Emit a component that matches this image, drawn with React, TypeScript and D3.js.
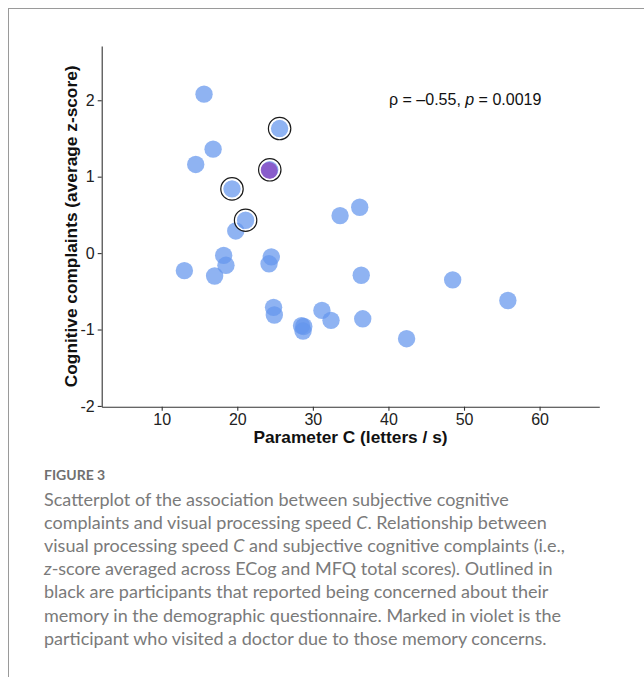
import React, { useEffect, useRef } from 'react';
import * as d3 from 'd3';

// visual processing speed C (letters / s) and cognitive complaints (average z-score)
const speedC = [15.6, 25.6, 16.8, 14.5, 24.3, 19.3, 21.1, 19.8, 33.6, 36.2, 13.0, 17.0, 18.2, 18.5, 24.5, 24.2, 24.8, 24.9, 28.5, 28.8, 28.7, 31.2, 32.4, 36.4, 36.6, 42.4, 48.5, 55.8];
const complaints = [2.08, 1.63, 1.36, 1.16, 1.09, 0.84, 0.43, 0.29, 0.49, 0.60, -0.23, -0.30, -0.03, -0.16, -0.05, -0.14, -0.71, -0.81, -0.95, -0.96, -1.02, -0.75, -0.88, -0.29, -0.86, -1.12, -0.35, -0.62];
// participants concerned about memory (outlined) and the one who visited a doctor (violet)
const concerned = [1, 4, 5, 6];
const doctor = [4];

const xTicks = [10, 20, 30, 40, 50, 60];
const yTicks = [-2, -1, 0, 1, 2];

const annotation = { rho: '–0.55', p: '0.0019' };

const captionLines = [
    [{ t: 'Scatterplot of the association between subjective cognitive' }],
    [{ t: 'complaints and visual processing speed ' }, { t: 'C', i: true }, { t: '. Relationship between' }],
    [{ t: 'visual processing speed ' }, { t: 'C', i: true }, { t: ' and subjective cognitive complaints (i.e.,' }],
    [{ t: 'z', i: true }, { t: '-score averaged across ECog and MFQ total scores). Outlined in' }],
    [{ t: 'black are participants that reported being concerned about their' }],
    [{ t: 'memory in the demographic questionnaire. Marked in violet is the' }],
    [{ t: 'participant who visited a doctor due to those memory concerns.' }],
];

const Chart = () => {
    const svgRef = useRef(null);
    const width = 644;
    const height = 677;
    const plot = { left: 101.7, right: 599.3, top: 46, bottom: 406.7 };

    useEffect(() => {
        const svg = d3.select(svgRef.current);
        svg.selectAll('*').remove();

        const data = speedC.map((x, i) => ({
            x,
            y: complaints[i],
            outlined: concerned.includes(i),
            violet: doctor.includes(i),
        }));

        const xScale = d3.scaleLinear().domain([2.06, 67.9]).range([plot.left, plot.right]);
        const yScale = d3.scaleLinear().domain([-2.01, 2.71]).range([plot.bottom, plot.top]);

        // page frame
        svg.append('line')
            .attr('x1', 8).attr('x2', width).attr('y1', 8.5).attr('y2', 8.5)
            .attr('stroke', '#9a9a9a').attr('stroke-width', 1);
        svg.append('line')
            .attr('x1', 8.5).attr('x2', 8.5).attr('y1', 8).attr('y2', height)
            .attr('stroke', '#9a9a9a').attr('stroke-width', 1);

        const axisFont = "'Liberation Sans', Arial, sans-serif";

        // x axis
        const xAxis = svg.append('g')
            .attr('transform', `translate(0,${plot.bottom})`)
            .attr('font-size', 16)
            .attr('font-family', axisFont)
            .call(d3.axisBottom(xScale).tickValues(xTicks).tickSize(4).tickPadding(3).tickSizeOuter(0));
        xAxis.select('.domain').attr('stroke', '#333').attr('stroke-width', 1.1);
        xAxis.selectAll('.tick line').attr('stroke', '#333').attr('stroke-width', 1.1);
        xAxis.selectAll('.tick text')
            .attr('font-family', axisFont).attr('font-size', 16).attr('fill', '#222');

        // y axis
        const yAxis = svg.append('g')
            .attr('transform', `translate(${plot.left},0)`)
            .attr('font-size', 16)
            .attr('font-family', axisFont)
            .call(d3.axisLeft(yScale).tickValues(yTicks).tickFormat(d3.format('d')).tickSize(4).tickPadding(3).tickSizeOuter(0));
        yAxis.select('.domain').attr('stroke', '#333').attr('stroke-width', 1.1);
        yAxis.selectAll('.tick line').attr('stroke', '#333').attr('stroke-width', 1.1);
        yAxis.selectAll('.tick text')
            .text(d => (d < 0 ? '-' + Math.abs(d) : d))
            .attr('font-family', axisFont).attr('font-size', 16).attr('fill', '#222');

        // axis titles
        svg.append('text')
            .attr('x', (plot.left + plot.right) / 2)
            .attr('y', 443)
            .attr('text-anchor', 'middle')
            .attr('font-family', axisFont).attr('font-weight', 'bold').attr('font-size', 17.3)
            .attr('fill', '#111')
            .text('Parameter C (letters / s)');

        svg.append('text')
            .attr('transform', `translate(77,${(plot.top + plot.bottom) / 2}) rotate(-90)`)
            .attr('text-anchor', 'middle')
            .attr('font-family', axisFont).attr('font-weight', 'bold').attr('font-size', 17.3)
            .attr('fill', '#111')
            .text('Cognitive complaints (average z-score)');

        // points
        svg.append('g')
            .selectAll('circle')
            .data(data)
            .enter()
            .append('circle')
            .attr('cx', d => xScale(d.x))
            .attr('cy', d => yScale(d.y))
            .attr('r', 8.7)
            .attr('fill', 'cornflowerblue')
            .attr('fill-opacity', 0.72);

        const marked = svg.append('g')
            .selectAll('g')
            .data(data.filter(d => d.outlined))
            .enter()
            .append('g');
        marked.filter(d => d.violet)
            .append('circle')
            .attr('cx', d => xScale(d.x) - 0.8)
            .attr('cy', d => yScale(d.y) + 0.8)
            .attr('r', 8.7)
            .attr('fill', '#863cbb')
            .attr('fill-opacity', 0.72);
        marked.append('circle')
            .attr('cx', d => xScale(d.x))
            .attr('cy', d => yScale(d.y))
            .attr('r', 10)
            .attr('fill', 'none')
            .attr('stroke', '#fff')
            .attr('stroke-width', 1.6);
        marked.append('circle')
            .attr('cx', d => xScale(d.x))
            .attr('cy', d => yScale(d.y))
            .attr('r', 11.2)
            .attr('fill', 'none')
            .attr('stroke', '#1a1a1a')
            .attr('stroke-width', 1.2);

        // correlation annotation
        const ann = svg.append('text')
            .attr('x', 389)
            .attr('y', 105)
            .attr('font-family', axisFont).attr('font-size', 16).attr('fill', '#111');
        ann.append('tspan').text(`ρ = ${annotation.rho}, `);
        ann.append('tspan').attr('font-style', 'italic').text('p');
        ann.append('tspan').text(` = ${annotation.p}`);

        // caption
        const capFont = "Lato, 'Open Sans', sans-serif";
        svg.append('text')
            .attr('x', 44)
            .attr('y', 480)
            .attr('font-family', capFont).attr('font-weight', 'bold').attr('font-size', 14)
            .attr('fill', '#707070')
            .text('FIGURE 3');

        const cap = svg.append('g');
        captionLines.forEach((line, k) => {
            const t = cap.append('text')
                .attr('x', 44)
                .attr('y', 505.5 + k * 23.2)
                .attr('font-family', capFont).attr('font-size', 18)
                .attr('fill', '#7a7a7a');
            line.forEach(seg => {
                t.append('tspan')
                    .attr('font-style', seg.i ? 'italic' : 'normal')
                    .text(seg.t);
            });
        });
    }, []);

    return (
        <svg
            ref={svgRef}
            width={width}
            height={height}
            style={{ position: 'absolute', left: 0, top: 0, background: '#fff' }}
        ></svg>
    );
};

export default function App() {
    return <Chart />;
}
